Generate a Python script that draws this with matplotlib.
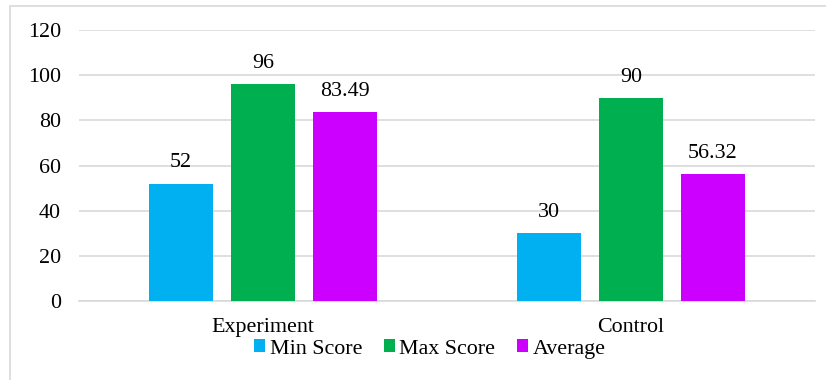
import numpy as np
import matplotlib
matplotlib.use("Agg")
import matplotlib.pyplot as plt
from matplotlib.patches import Rectangle

# Data
groups = ["Experiment", "Control"]
series = ["Min Score", "Max Score", "Average"]
min_score = [52, 30]
max_score = [96, 90]
average = [83.49, 56.32]
value_labels = [["52", "30"], ["96", "90"], ["83.49", "56.32"]]
colors = ["#00B0F0", "#00B050", "#CC00FF"]

plt.rcParams['font.family'] = ['Liberation Serif', 'DejaVu Serif']
FS = 15.8

fig = plt.figure(figsize=(8.26, 3.80), dpi=100)
ax = fig.add_axes([0.0956, 0.2079, 0.891, 0.7131])

# chart border (Excel style, cropped on right/bottom)
fig.patches.append(Rectangle((10 / 826, -0.05), 1.2, (380 - 6) / 380 + 0.05,
                             transform=fig.transFigure, fill=False,
                             edgecolor="#D9D9D9", linewidth=1.2))

x = np.arange(len(groups))
width = 0.174
step = 0.223
for i, (vals, name) in enumerate(zip([min_score, max_score, average], series)):
    bars = ax.bar(x + (i - 1) * step, vals, width, color=colors[i], label=name, zorder=3)
    for b, lab in zip(bars, value_labels[i]):
        ax.annotate(lab, (b.get_x() + b.get_width() / 2, b.get_height()),
                    xytext=(0, 8), textcoords="offset points",
                    ha="center", va="bottom", fontsize=FS, color="#000000")

ax.set_xlim(-0.5, 1.5)
ax.set_ylim(0, 120)
ax.set_yticks(range(0, 121, 20))
ax.set_xticks(x)
ax.set_xticklabels(groups)
ax.tick_params(axis="both", length=0, labelsize=FS, colors="#000000")
ax.tick_params(axis="y", pad=13)
ax.tick_params(axis="x", pad=12)
ax.yaxis.grid(True, color="#D9D9D9", linewidth=1.2, zorder=0)
for s in ["top", "right", "left"]:
    ax.spines[s].set_visible(False)
ax.spines["bottom"].set_color("#D9D9D9")
ax.spines["bottom"].set_linewidth(1.2)

fig.legend(loc="center", bbox_to_anchor=(430 / 826, 1 - 349 / 380), ncol=3,
           frameon=False, fontsize=FS, handlelength=0.5, handleheight=0.5,
           handletextpad=0.2, columnspacing=1.0, borderpad=0)

fig.savefig("out.png", dpi=100)
